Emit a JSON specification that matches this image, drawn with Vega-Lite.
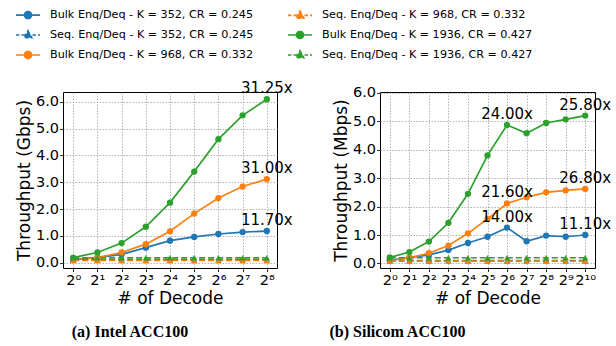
{
  "$schema": "https://vega.github.io/schema/vega-lite/v6.json",
  "background": "white",
  "padding": {"left": 14, "top": 9, "right": 5, "bottom": 4},
  "config": {
    "font": "DejaVu Sans",
    "view": {"stroke": "black", "strokeWidth": 1},
    "axis": {
      "grid": true, "gridColor": "#a0a0a0", "gridDash": [1.5, 1.5], "gridWidth": 0.8,
      "domain": false, "tickColor": "black", "tickSize": 3.5, "tickWidth": 0.8, "labelOverlap": false,
      "labelFont": "DejaVu Sans", "labelFontSize": 14.5, "labelColor": "black",
      "titleFont": "DejaVu Sans", "titleFontSize": 17, "titleFontWeight": "normal", "titleColor": "black"
    },
    "axisX": {"labelPadding": 2, "titlePadding": 3, "labelFontSize": 14.5},
    "axisY": {"labelPadding": 1, "titlePadding": 2},
    "title": {"font": "Liberation Serif", "fontWeight": "bold", "fontSize": 16, "color": "black", "orient": "bottom", "anchor": "middle", "frame": "group"},
    "legend": {"orient": "none", "legendX": -41, "legendY": -83, "columns": 2, "padding": 0,
      "columnPadding": 30, "rowPadding": 5, "labelOffset": 16, "labelLimit": 400, "symbolSize": 100, "symbolStrokeWidth": 1.7,
      "labelFont": "DejaVu Sans", "labelFontSize": 11.2, "labelColor": "black"}
  },
  "datasets": {
    "intel": [
      {"s": "B352", "e": 0, "v": 0.12}, {"s": "B352", "e": 1, "v": 0.19}, {"s": "B352", "e": 2, "v": 0.31}, {"s": "B352", "e": 3, "v": 0.56}, {"s": "B352", "e": 4, "v": 0.82}, {"s": "B352", "e": 5, "v": 0.96}, {"s": "B352", "e": 6, "v": 1.07}, {"s": "B352", "e": 7, "v": 1.14}, {"s": "B352", "e": 8, "v": 1.18},
      {"s": "S352", "e": 0, "v": 0.1}, {"s": "S352", "e": 1, "v": 0.1}, {"s": "S352", "e": 2, "v": 0.1}, {"s": "S352", "e": 3, "v": 0.1}, {"s": "S352", "e": 4, "v": 0.1}, {"s": "S352", "e": 5, "v": 0.1}, {"s": "S352", "e": 6, "v": 0.1}, {"s": "S352", "e": 7, "v": 0.1}, {"s": "S352", "e": 8, "v": 0.1},
      {"s": "B968", "e": 0, "v": 0.1}, {"s": "B968", "e": 1, "v": 0.19}, {"s": "B968", "e": 2, "v": 0.38}, {"s": "B968", "e": 3, "v": 0.69}, {"s": "B968", "e": 4, "v": 1.17}, {"s": "B968", "e": 5, "v": 1.83}, {"s": "B968", "e": 6, "v": 2.41}, {"s": "B968", "e": 7, "v": 2.84}, {"s": "B968", "e": 8, "v": 3.12},
      {"s": "S968", "e": 0, "v": 0.08}, {"s": "S968", "e": 1, "v": 0.08}, {"s": "S968", "e": 2, "v": 0.08}, {"s": "S968", "e": 3, "v": 0.08}, {"s": "S968", "e": 4, "v": 0.08}, {"s": "S968", "e": 5, "v": 0.08}, {"s": "S968", "e": 6, "v": 0.08}, {"s": "S968", "e": 7, "v": 0.08}, {"s": "S968", "e": 8, "v": 0.08},
      {"s": "B1936", "e": 0, "v": 0.19}, {"s": "B1936", "e": 1, "v": 0.38}, {"s": "B1936", "e": 2, "v": 0.73}, {"s": "B1936", "e": 3, "v": 1.34}, {"s": "B1936", "e": 4, "v": 2.24}, {"s": "B1936", "e": 5, "v": 3.4}, {"s": "B1936", "e": 6, "v": 4.61}, {"s": "B1936", "e": 7, "v": 5.5}, {"s": "B1936", "e": 8, "v": 6.1},
      {"s": "S1936", "e": 0, "v": 0.18}, {"s": "S1936", "e": 1, "v": 0.18}, {"s": "S1936", "e": 2, "v": 0.18}, {"s": "S1936", "e": 3, "v": 0.18}, {"s": "S1936", "e": 4, "v": 0.18}, {"s": "S1936", "e": 5, "v": 0.18}, {"s": "S1936", "e": 6, "v": 0.18}, {"s": "S1936", "e": 7, "v": 0.18}, {"s": "S1936", "e": 8, "v": 0.18}
    ],
    "silicom": [
      {"s": "B352", "e": 0, "v": 0.12}, {"s": "B352", "e": 1, "v": 0.2}, {"s": "B352", "e": 2, "v": 0.3}, {"s": "B352", "e": 3, "v": 0.47}, {"s": "B352", "e": 4, "v": 0.72}, {"s": "B352", "e": 5, "v": 0.94}, {"s": "B352", "e": 6, "v": 1.26}, {"s": "B352", "e": 7, "v": 0.78}, {"s": "B352", "e": 8, "v": 0.98}, {"s": "B352", "e": 9, "v": 0.94}, {"s": "B352", "e": 10, "v": 1.0},
      {"s": "S352", "e": 0, "v": 0.1}, {"s": "S352", "e": 1, "v": 0.1}, {"s": "S352", "e": 2, "v": 0.1}, {"s": "S352", "e": 3, "v": 0.1}, {"s": "S352", "e": 4, "v": 0.1}, {"s": "S352", "e": 5, "v": 0.1}, {"s": "S352", "e": 6, "v": 0.1}, {"s": "S352", "e": 7, "v": 0.1}, {"s": "S352", "e": 8, "v": 0.1}, {"s": "S352", "e": 9, "v": 0.1}, {"s": "S352", "e": 10, "v": 0.1},
      {"s": "B968", "e": 0, "v": 0.1}, {"s": "B968", "e": 1, "v": 0.2}, {"s": "B968", "e": 2, "v": 0.36}, {"s": "B968", "e": 3, "v": 0.63}, {"s": "B968", "e": 4, "v": 1.06}, {"s": "B968", "e": 5, "v": 1.57}, {"s": "B968", "e": 6, "v": 2.11}, {"s": "B968", "e": 7, "v": 2.33}, {"s": "B968", "e": 8, "v": 2.5}, {"s": "B968", "e": 9, "v": 2.57}, {"s": "B968", "e": 10, "v": 2.62},
      {"s": "S968", "e": 0, "v": 0.08}, {"s": "S968", "e": 1, "v": 0.08}, {"s": "S968", "e": 2, "v": 0.08}, {"s": "S968", "e": 3, "v": 0.08}, {"s": "S968", "e": 4, "v": 0.08}, {"s": "S968", "e": 5, "v": 0.08}, {"s": "S968", "e": 6, "v": 0.08}, {"s": "S968", "e": 7, "v": 0.08}, {"s": "S968", "e": 8, "v": 0.08}, {"s": "S968", "e": 9, "v": 0.08}, {"s": "S968", "e": 10, "v": 0.08},
      {"s": "B1936", "e": 0, "v": 0.21}, {"s": "B1936", "e": 1, "v": 0.4}, {"s": "B1936", "e": 2, "v": 0.77}, {"s": "B1936", "e": 3, "v": 1.43}, {"s": "B1936", "e": 4, "v": 2.45}, {"s": "B1936", "e": 5, "v": 3.8}, {"s": "B1936", "e": 6, "v": 4.87}, {"s": "B1936", "e": 7, "v": 4.58}, {"s": "B1936", "e": 8, "v": 4.94}, {"s": "B1936", "e": 9, "v": 5.07}, {"s": "B1936", "e": 10, "v": 5.2},
      {"s": "S1936", "e": 0, "v": 0.2}, {"s": "S1936", "e": 1, "v": 0.2}, {"s": "S1936", "e": 2, "v": 0.2}, {"s": "S1936", "e": 3, "v": 0.2}, {"s": "S1936", "e": 4, "v": 0.2}, {"s": "S1936", "e": 5, "v": 0.2}, {"s": "S1936", "e": 6, "v": 0.2}, {"s": "S1936", "e": 7, "v": 0.2}, {"s": "S1936", "e": 8, "v": 0.2}, {"s": "S1936", "e": 9, "v": 0.2}, {"s": "S1936", "e": 10, "v": 0.2}
    ],
    "ann_intel": [
      {"e": 8, "v": 6.1, "t": "31.25x"},
      {"e": 8, "v": 3.12, "t": "31.00x"},
      {"e": 8, "v": 1.18, "t": "11.70x"}
    ],
    "ann_silicom": [
      {"e": 6, "v": 4.87, "t": "24.00x"},
      {"e": 10, "v": 5.2, "t": "25.80x"},
      {"e": 10, "v": 2.62, "t": "26.80x"},
      {"e": 6, "v": 2.11, "t": "21.60x"},
      {"e": 6, "v": 1.26, "t": "14.00x"},
      {"e": 10, "v": 1.0, "t": "11.10x"}
    ]
  },
  "resolve": {"scale": {"color": "shared"}},
  "spacing": 34,
  "hconcat": [
    {
      "width": 214, "height": 176,
      "title": {"text": "(a) Intel ACC100", "dx": -40, "offset": 18},
      "encoding": {
        "x": {"field": "e", "type": "quantitative", "scale": {"domain": [-0.42, 8.42], "nice": false, "zero": false},
              "axis": {"values": [0,1,2,3,4,5,6,7,8], "labelOverlap": false, "title": "# of Decode", "labelExpr": "'2' + ['⁰','¹','²','³','⁴','⁵','⁶','⁷','⁸','⁹','¹⁰'][datum.value]"}},
        "y": {"field": "v", "type": "quantitative", "scale": {"domain": [-0.2, 6.37], "nice": false, "zero": false},
              "axis": {"values": [0,1,2,3,4,5,6], "labelOverlap": false, "format": ".1f", "title": "Throughput (Gbps)"}}
      },
      "layer": [
        {
          "data": {"name": "intel"},
          "transform": [{"filter": {"field": "s", "oneOf": ["B352", "B968", "B1936"]}}],
          "mark": {"type": "line", "strokeWidth": 1.7},
          "encoding": {
            "color": {"field": "s", "type": "nominal",
              "scale": {"domain": ["B352","S352","B968","S968","B1936","S1936"], "range": ["#1f77b4","#1f77b4","#ff7f0e","#ff7f0e","#2ca02c","#2ca02c"]},
              "legend": {"title": null,
                "labelExpr": "{'B352':'Bulk Enq/Deq - K = 352, CR = 0.245','S352':'Seq. Enq/Deq - K = 352, CR = 0.245','B968':'Bulk Enq/Deq - K = 968, CR = 0.332','S968':'Seq. Enq/Deq - K = 968, CR = 0.332','B1936':'Bulk Enq/Deq - K = 1936, CR = 0.427','S1936':'Seq. Enq/Deq - K = 1936, CR = 0.427'}[datum.value]",
                "encode": {"symbols": {"update": {
                  "shape": {"signal": "indexof(datum.value, 'S') === 0 ? 'M-2.4,0H2.4M0,-0.85L0.75,0.55L-0.75,0.55Z' : 'M-2.4,0H2.4M-0.7,0A0.7,0.7 0 1,0 0.7,0A0.7,0.7 0 1,0 -0.7,0Z'"},
                  "size": {"value": 100},
                  "fill": {"signal": "scale('color', datum.value)"},
                  "stroke": {"signal": "scale('color', datum.value)"},
                  "strokeWidth": {"value": 1.7},
                  "strokeDash": {"signal": "indexof(datum.value, 'S') === 0 ? [3.5, 2] : [1, 0]"},
                  "opacity": {"value": 1}
                }}}}}
          }
        },
        {
          "data": {"name": "intel"},
          "transform": [{"filter": {"field": "s", "oneOf": ["S352", "S968", "S1936"]}}],
          "mark": {"type": "line", "strokeWidth": 1.7, "strokeDash": [6, 3]},
          "encoding": {"color": {"field": "s", "type": "nominal", "legend": null}}
        },
        {
          "data": {"name": "intel"},
          "transform": [{"filter": {"field": "s", "oneOf": ["B352", "B968", "B1936"]}}],
          "mark": {"type": "point", "shape": "circle", "filled": true, "size": 40, "opacity": 1},
          "encoding": {"color": {"field": "s", "type": "nominal", "legend": null}}
        },
        {
          "data": {"name": "intel"},
          "transform": [{"filter": {"field": "s", "oneOf": ["S352", "S968", "S1936"]}}],
          "mark": {"type": "point", "shape": "triangle-up", "filled": true, "size": 40, "opacity": 1},
          "encoding": {"color": {"field": "s", "type": "nominal", "legend": null}}
        },
        {
          "data": {"name": "ann_intel"},
          "mark": {"type": "text", "fontSize": 15, "font": "DejaVu Sans", "color": "black", "align": "center", "baseline": "alphabetic", "dy": -6, "clip": false},
          "encoding": {"text": {"field": "t"}}
        }
      ]
    },
    {
      "width": 215, "height": 176,
      "title": {"text": "(b) Silicom ACC100", "dx": -90, "offset": 18},
      "encoding": {
        "x": {"field": "e", "type": "quantitative", "scale": {"domain": [-0.5, 10.5], "nice": false, "zero": false},
              "axis": {"values": [0,1,2,3,4,5,6,7,8,9,10], "labelOverlap": false, "title": "# of Decode", "labelExpr": "'2' + ['⁰','¹','²','³','⁴','⁵','⁶','⁷','⁸','⁹','¹⁰'][datum.value]"}},
        "y": {"field": "v", "type": "quantitative", "scale": {"domain": [-0.16, 6.03], "nice": false, "zero": false},
              "axis": {"values": [0,1,2,3,4,5,6], "labelOverlap": false, "format": ".1f", "title": "Throughput (Mbps)"}}
      },
      "layer": [
        {
          "data": {"name": "silicom"},
          "transform": [{"filter": {"field": "s", "oneOf": ["B352", "B968", "B1936"]}}],
          "mark": {"type": "line", "strokeWidth": 1.7},
          "encoding": {
            "color": {"field": "s", "type": "nominal",
              "legend": {"title": null,
                "labelExpr": "{'B352':'Bulk Enq/Deq - K = 352, CR = 0.245','S352':'Seq. Enq/Deq - K = 352, CR = 0.245','B968':'Bulk Enq/Deq - K = 968, CR = 0.332','S968':'Seq. Enq/Deq - K = 968, CR = 0.332','B1936':'Bulk Enq/Deq - K = 1936, CR = 0.427','S1936':'Seq. Enq/Deq - K = 1936, CR = 0.427'}[datum.value]",
                "encode": {"symbols": {"update": {
                  "shape": {"signal": "indexof(datum.value, 'S') === 0 ? 'M-2.4,0H2.4M0,-0.85L0.75,0.55L-0.75,0.55Z' : 'M-2.4,0H2.4M-0.7,0A0.7,0.7 0 1,0 0.7,0A0.7,0.7 0 1,0 -0.7,0Z'"},
                  "size": {"value": 100},
                  "fill": {"signal": "scale('color', datum.value)"},
                  "stroke": {"signal": "scale('color', datum.value)"},
                  "strokeWidth": {"value": 1.7},
                  "strokeDash": {"signal": "indexof(datum.value, 'S') === 0 ? [3.5, 2] : [1, 0]"},
                  "opacity": {"value": 1}
                }}}}}
          }
        },
        {
          "data": {"name": "silicom"},
          "transform": [{"filter": {"field": "s", "oneOf": ["S352", "S968", "S1936"]}}],
          "mark": {"type": "line", "strokeWidth": 1.7, "strokeDash": [6, 3]},
          "encoding": {"color": {"field": "s", "type": "nominal", "legend": null}}
        },
        {
          "data": {"name": "silicom"},
          "transform": [{"filter": {"field": "s", "oneOf": ["B352", "B968", "B1936"]}}],
          "mark": {"type": "point", "shape": "circle", "filled": true, "size": 40, "opacity": 1},
          "encoding": {"color": {"field": "s", "type": "nominal", "legend": null}}
        },
        {
          "data": {"name": "silicom"},
          "transform": [{"filter": {"field": "s", "oneOf": ["S352", "S968", "S1936"]}}],
          "mark": {"type": "point", "shape": "triangle-up", "filled": true, "size": 40, "opacity": 1},
          "encoding": {"color": {"field": "s", "type": "nominal", "legend": null}}
        },
        {
          "data": {"name": "ann_silicom"},
          "mark": {"type": "text", "fontSize": 15, "font": "DejaVu Sans", "color": "black", "align": "center", "baseline": "alphabetic", "dy": -6, "clip": false},
          "encoding": {"text": {"field": "t"}}
        }
      ]
    }
  ]
}
